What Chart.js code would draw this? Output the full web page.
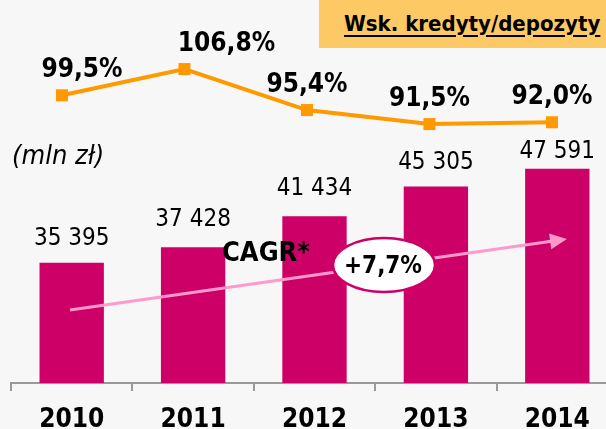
<!DOCTYPE html>
<html>
<head>
<meta charset="utf-8">
<script src="https://cdn.jsdelivr.net/npm/chart.js@4"></script>
<style>
  html, body { margin: 0; padding: 0; background: #f7f7f7; overflow: hidden; }
  #wrap { position: relative; width: 606px; height: 429px; overflow: hidden; }
  #chart { position: absolute; left: 0; top: 0; }
  #head {
    position: absolute; left: 319px; top: 0; width: 287px; height: 48px;
    background: #fdc964; font: bold 22px 'DejaVu Sans Condensed', 'DejaVu Sans', sans-serif;
    color: #000; line-height: 47px; padding-left: 25px; box-sizing: border-box; white-space: nowrap;
  }
  #head span { text-decoration: underline; text-decoration-thickness: 2px; text-underline-offset: 4px; }
</style>
</head>
<body>
<div id="wrap">
  <canvas id="chart" width="620" height="429"></canvas>
  <div id="head"><span>Wsk. kredyty/depozyty</span></div>
</div>
<script>
// dane
const years = ['2010', '2011', '2012', '2013', '2014'];
const loans = [35395, 37428, 41434, 45305, 47591];       // mln zł
const ratio = [99.5, 106.8, 95.4, 91.5, 92.0];           // kredyty/depozyty, %
const cagrLabel = '+7,7%';

// label tweaks (px)
const ratioLabelShift = [20, 42, 0, 0, 0];
const loanLabelLift = [24, 27, 28, 24, 17];

const FONT = "'DejaVu Sans Condensed', 'DejaVu Sans', sans-serif";
const fmtPl = (v) => String(v).replace(/\B(?=(\d{3})+(?!\d))/g, ' ');
const fmtPct = (v) => v.toFixed(1).replace('.', ',') + '%';

const labelsPlugin = {
  id: 'labels',
  afterDatasetsDraw(chart) {
    const ctx = chart.ctx;
    ctx.save();
    ctx.fillStyle = '#000';
    ctx.textAlign = 'center';
    ctx.textBaseline = 'middle';

    // bar values
    ctx.font = '24px ' + FONT;
    chart.getDatasetMeta(0).data.forEach((bar, i) => {
      ctx.fillText(fmtPl(loans[i]), bar.x, bar.y - loanLabelLift[i]);
    });

    // ratio values
    ctx.font = 'bold 26px ' + FONT;
    chart.getDatasetMeta(1).data.forEach((pt, i) => {
      ctx.fillText(fmtPct(ratio[i]), pt.x + ratioLabelShift[i], pt.y - 25);
    });

    // unit
    ctx.font = 'italic 27px ' + FONT;
    ctx.textAlign = 'left';
    ctx.fillText('(mln zł)', 12, 157);

    // CAGR arrow
    const x0 = 70, y0 = 310, x1 = 567, y1 = 239;
    const ang = Math.atan2(y1 - y0, x1 - x0);
    ctx.strokeStyle = '#ff99cc';
    ctx.fillStyle = '#ff99cc';
    ctx.lineWidth = 3;
    ctx.beginPath();
    ctx.moveTo(x0, y0);
    ctx.lineTo(x1 - 14 * Math.cos(ang), y1 - 14 * Math.sin(ang));
    ctx.stroke();
    ctx.beginPath();
    ctx.moveTo(x1, y1);
    ctx.lineTo(x1 - 17 * Math.cos(ang) + 8 * Math.sin(ang), y1 - 17 * Math.sin(ang) - 8 * Math.cos(ang));
    ctx.lineTo(x1 - 17 * Math.cos(ang) - 8 * Math.sin(ang), y1 - 17 * Math.sin(ang) + 8 * Math.cos(ang));
    ctx.closePath();
    ctx.fill();

    // ellipse with CAGR value
    ctx.beginPath();
    ctx.ellipse(384, 265, 51, 27, 0, 0, Math.PI * 2);
    ctx.fillStyle = '#fff';
    ctx.fill();
    ctx.strokeStyle = '#cc0066';
    ctx.lineWidth = 2.5;
    ctx.stroke();

    ctx.fillStyle = '#000';
    ctx.textAlign = 'center';
    ctx.font = 'bold 24px ' + FONT;
    ctx.fillText(cagrLabel, 383, 267);
    ctx.font = 'bold 27px ' + FONT;
    ctx.fillText('CAGR*', 266, 254);
    ctx.restore();
  }
};

new Chart(document.getElementById('chart').getContext('2d'), {
  data: {
    labels: years,
    datasets: [
      {
        type: 'bar',
        data: loans,
        backgroundColor: '#cc0066',
        barPercentage: 0.53,
        categoryPercentage: 1,
        grouped: false,
        yAxisID: 'y',
        order: 2
      },
      {
        type: 'line',
        data: ratio.map((v, i) => ({ x: i, y: v })),
        borderColor: '#ff9900',
        backgroundColor: '#ff9900',
        borderWidth: 4,
        pointStyle: 'rect',
        pointRadius: 8.5,
        pointBorderWidth: 0,
        tension: 0,
        xAxisID: 'xl',
        yAxisID: 'yl',
        order: 1
      }
    ]
  },
  options: {
    responsive: false,
    animation: false,
    layout: { autoPadding: false, padding: { left: 11, right: 2, top: 0, bottom: 0 } },
    plugins: { legend: { display: false }, tooltip: { enabled: false } },
    scales: {
      x: {
        offset: true,
        grid: { offset: true, drawOnChartArea: false, color: '#999', tickLength: 8, lineWidth: 2 },
        border: { color: '#999', width: 2 },
        ticks: { color: '#000', font: { family: FONT, size: 26, weight: 'bold' }, padding: 14 },
        afterFit: (axis) => { axis.height = 46; }
      },
      xl: { type: 'linear', display: false, min: -0.416, max: 4.539 },
      y: { display: false, min: 19800, max: 69500 },
      yl: { display: false, min: 19.5, max: 126 }
    }
  },
  plugins: [labelsPlugin]
});
</script>
</body>
</html>
